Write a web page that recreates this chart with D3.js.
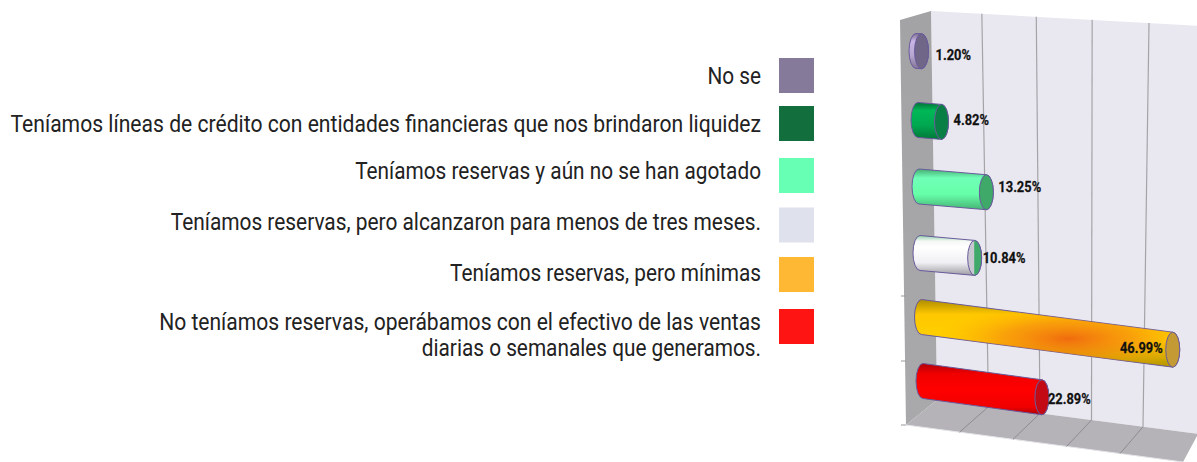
<!DOCTYPE html>
<html><head><meta charset="utf-8">
<script src="https://cdn.jsdelivr.net/npm/d3@7"></script>
<style>html,body{margin:0;padding:0;background:#fff}svg{display:block}</style>
</head><body><svg id="c" width="1197" height="462"></svg>
<script>
const categories = ["No se","Teníamos líneas de crédito con entidades financieras que nos brindaron liquidez","Teníamos reservas y aún no se han agotado","Teníamos reservas, pero alcanzaron para menos de tres meses.","Teníamos reservas, pero mínimas","No teníamos reservas, operábamos con el efectivo de las ventas\ndiarias o semanales que generamos."];
const values = [1.20,4.82,13.25,10.84,46.99,22.89];
const gridTicks = [10,20,30,40];
const legendColors = ["#857a99","#126e3c","#66ffb3","#dfe2ec","#ffb833","#ff1414"];
const bodyColors = ["#b7a6d2","#00a850","#66ffa8","#ffffff","#ffd000","#ff0000"];
const capColors = ["#6f6688","#0a7f45","#3fa96a","#3fa96a","#c49a35","#c30a14"];

const svg = d3.select("#c"), defs = svg.append("defs");
const font = "Roboto,sans-serif";
const idx = d3.range(values.length);

// Legend scales
const legendTop = d3.scaleLinear().domain([0,1,2,4,5]).range([58,106,158,257,309]);
const legendText = d3.scaleLinear().domain([0,1,2,3,4,5]).range([76,124,171,222,273,322]);
const legendCondense = d3.scaleOrdinal().domain(idx).range([0.885,0.899,0.885,0.888,0.885,0.897]);
const swatch = 35;
idx.forEach(i=>{
  svg.append("rect").attr("x",779).attr("y",legendTop(i)).attr("width",swatch).attr("height",swatch).attr("fill",legendColors[i]);
  categories[i].split("\n").forEach((t,j)=>{
    const sx = j===0 ? legendCondense(i) : 0.885;
    svg.append("text").attr("transform",`translate(761,${legendText(i)+j*26}) scale(${sx},1)`).attr("dy","0.35em")
      .attr("text-anchor","end").attr("font-family",font).attr("font-size",23.5).attr("fill","#222").text(t);
  });
});

// 3D frame: projected edges
const wallTop = x => 11 + (x-931)*0.055;
const wallBot = x => 400 + (x-937)*0.13;
const frontBot = x => 425 + (x-906)*0.134;
const right = 1197;
const grad = (id,stops,attrs)=>{
  const g = defs.append(attrs&&attrs.radial?"radialGradient":"linearGradient").attr("id",id);
  Object.entries(attrs||{x1:0,y1:0,x2:0,y2:1}).forEach(([k,v])=>{ if(k!=="radial") g.attr(k,v); });
  stops.forEach(s=>g.append("stop").attr("offset",s[0]).attr("stop-color",s[1]).attr("stop-opacity",s[2]===undefined?1:s[2]));
  return `url(#${id})`;
};
const poly = p => "M"+p.map(d=>d.join(",")).join("L")+"Z";
svg.append("path").attr("d",poly([[931,11],[right,wallTop(right)],[right,wallBot(right)],[937,400]])).attr("fill","#e9e8f0");
svg.append("path").attr("d",poly([[900,20],[931,11],[937,400],[906,425]])).attr("fill",grad("lw",[[0,"#a3a3a5"],[1,"#a9a9ab"]]));
svg.append("path").attr("d",poly([[906,425],[937,400],[right,wallBot(right)],[right,436],[1183,462]])).attr("fill","#b5b2b8");
svg.append("path").attr("d","M906,425L1183,462").attr("stroke","#e4e4e8").attr("fill","none");

// Value scales at the wall top, wall bottom and floor front
const gridTop = d3.scalePow().exponent(1.05).domain([0,40]).range([931,1149]);
const gridBot = d3.scaleLinear().domain([0,40]).range([937,1143]);
const floorFront = d3.scaleLinear().domain([0,40]).range([906,1120]);
gridTicks.forEach(t=>{
  svg.append("line").attr("x1",gridTop(t)).attr("y1",wallTop(gridTop(t))).attr("x2",gridBot(t)).attr("y2",wallBot(gridBot(t))).attr("stroke","#a4a4a8").attr("stroke-width",1.2);
  svg.append("line").attr("x1",gridBot(t)).attr("y1",wallBot(gridBot(t))).attr("x2",floorFront(t)).attr("y2",frontBot(floorFront(t))).attr("stroke","#8e8c92").attr("stroke-width",1);
});
[296,361,425].forEach(y=>svg.append("line").attr("x1",901).attr("x2",906).attr("y1",y).attr("y2",y).attr("stroke","#999"));

// Bars
const len = d3.scalePow().exponent(1.04).domain([0,50]).range([0,268]);
const startX = d3.scaleLinear().domain([0,1,3,5]).range([916,918,920,923]);
const startY = d3.scaleLinear().domain([0,1,3,5]).range([51,120,253,381]);
const slope = d3.scaleLinear().domain([0,1,3,4,5]).range([0.04,0.08,0.09,0.13,0.137]);
const labelDx = d3.scaleOrdinal().domain(idx).range([7,5,5,1,0,-1]);
const labelDy = d3.scaleOrdinal().domain(idx).range([4,-2,-5,0,-2,1]);
const ry = 17.5, rx = 7;
idx.forEach(i=>{
  const x0=startX(i), y0=startY(i), L=len(values[i]), x1=x0+L, y1=y0+L*slope(i), col=bodyColors[i], c=d3.color(col);
  const stops = i===3
    ? [[0,"#8fd0a8"],[0.14,"#f4f8f5"],[0.3,"#fff"],[0.68,"#f0f0f4"],[1,"#9a9aa0"]]
    : i===5
    ? [[0,"#b00008"],[0.2,"#f00000"],[0.5,col],[0.85,"#f00000"],[1,"#a80008"]]
    : [[0,c.darker(1.1).formatHex()],[0.22,i===4?"#ffc800":c.brighter(0.25).formatHex()],[0.62,col],[1,c.darker(1.0).formatHex()]];
  const fill = grad("b"+i,stops);
  const d=`M${x0},${y0-ry}L${x1},${y1-ry}A${rx},${ry} 0 0 1 ${x1},${y1+ry}L${x0},${y0+ry}A${rx},${ry} 0 0 1 ${x0},${y0-ry}Z`;
  svg.append("path").attr("d",d).attr("fill",fill).attr("stroke","#6a5a9c").attr("stroke-width",1);
  if(i===4){
    const glow = grad("glow",[[0,"#ee6010",0.9],[0.5,"#f58410",0.6],[1,"#ffb000",0]],{radial:true,cx:0.58,cy:0.58,r:0.5});
    svg.append("path").attr("d",d).attr("fill",glow);
  }
  const capFill = i===3 ? grad("cap3",[[0,"#c8c8d0"],[0.45,"#c8c8d0"],[0.5,capColors[i]],[1,capColors[i]]],{x1:0,y1:0,x2:1,y2:0}) : capColors[i];
  svg.append("ellipse").attr("cx",x1).attr("cy",y1).attr("rx",rx).attr("ry",ry).attr("fill",capFill).attr("stroke","#6a5a9c").attr("stroke-width",1);
  const label = values[i].toFixed(2)+"%";
  const inside = i===4;
  const lx = inside ? x1-10 : x1+rx+labelDx(i);
  svg.append("text").attr("transform",`translate(${lx},${y1+labelDy(i)}) scale(0.86,1)`).attr("dy","0.35em")
    .attr("text-anchor",inside?"end":"start").attr("font-family",font).attr("font-weight","bold").attr("font-size",15)
    .attr("fill","#111").attr("stroke","#111").attr("stroke-width",0.25).text(label);
});
</script></body></html>
